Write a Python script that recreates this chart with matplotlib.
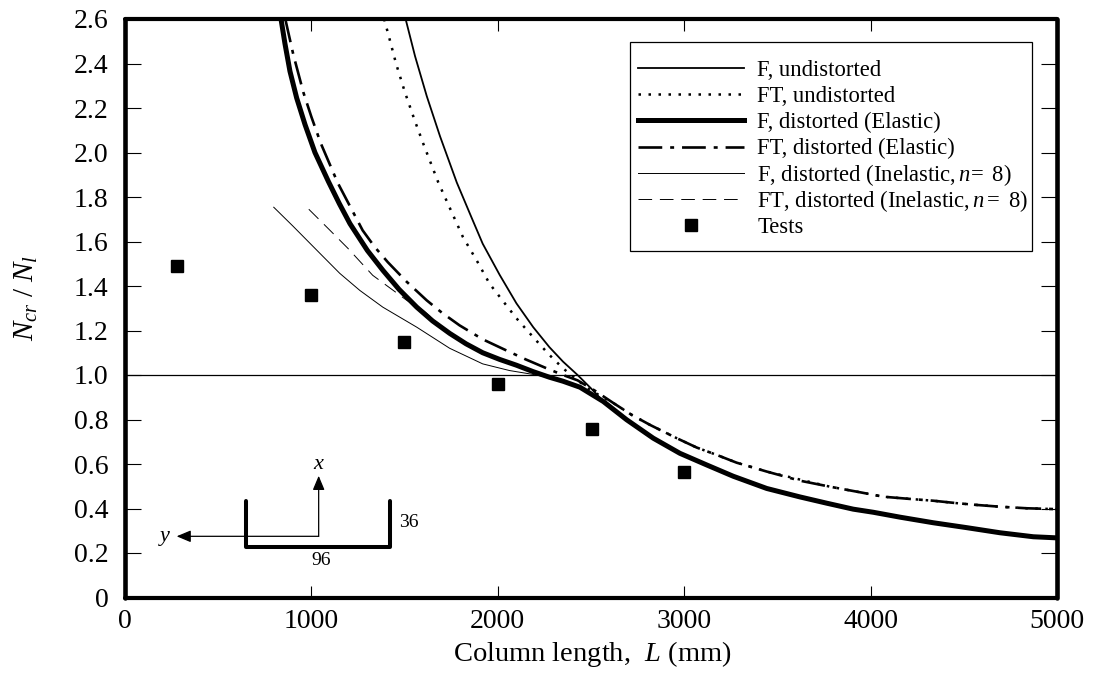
import matplotlib
matplotlib.use("Agg")
import matplotlib.pyplot as plt
from matplotlib.transforms import Bbox

plt.rcParams['font.family'] = ['Liberation Serif', 'DejaVu Serif']
plt.rcParams['mathtext.fontset'] = 'custom'
plt.rcParams['mathtext.rm'] = 'Liberation Serif'
plt.rcParams['mathtext.it'] = 'Liberation Serif:italic'

f_und_x = [1506,1556,1619,1690,1780,1858,1919,2010,2100,2190,2277,2350,2428,2500,2566,2691,2834,2977,3120,3263,3443,3664,3907,4158,4515,4873,5000]
f_und_y = [2.598,2.433,2.253,2.073,1.865,1.71,1.59,1.45,1.322,1.215,1.125,1.06,1.0,0.94,0.881,0.799,0.716,0.648,0.596,0.545,0.49,0.446,0.397,0.361,0.316,0.273,0.268]
ft_und_x = [1390,1413,1454,1502,1556,1600,1681,1813,1890,1956,2030,2100,2190,2277,2350,2428,2500,2620,2718,2816,2960,3067,3174,3281,3443,3666,3782,3943,4068,4211,4336,4462,4569,4694,4838,5000]
ft_und_y = [2.60,2.53,2.40,2.27,2.14,2.04,1.865,1.62,1.51,1.41,1.33,1.255,1.17,1.09,1.03,0.976,0.93,0.874,0.821,0.776,0.716,0.674,0.641,0.606,0.566,0.521,0.498,0.473,0.453,0.443,0.435,0.424,0.416,0.408,0.401,0.397]
f_dis_x = [837,858,885,921,966,1019,1091,1150,1207,1300,1384,1470,1565,1650,1742,1830,1919,2010,2100,2190,2277,2350,2441,2566,2691,2834,2977,3120,3263,3443,3621,3764,3907,4015,4158,4336,4515,4694,4873,5000]
f_dis_y = [2.60,2.49,2.365,2.245,2.125,2.0,1.87,1.77,1.68,1.56,1.47,1.385,1.305,1.243,1.187,1.14,1.10,1.07,1.044,1.015,0.99,0.972,0.945,0.881,0.799,0.716,0.648,0.596,0.545,0.49,0.452,0.424,0.397,0.383,0.361,0.336,0.314,0.291,0.273,0.268]
ft_dis_x = [860,876,903,957,1000,1051,1141,1275,1340,1410,1510,1618,1700,1795,1920,2047,2150,2262,2350,2428,2520,2620,2718,2816,2960,3067,3174,3281,3443,3621,3782,3943,4068,4211,4336,4462,4569,4694,4838,5000]
ft_dis_y = [2.60,2.54,2.44,2.27,2.16,2.04,1.864,1.65,1.575,1.507,1.42,1.336,1.28,1.223,1.16,1.11,1.07,1.03,1.0,0.976,0.93,0.874,0.821,0.776,0.716,0.674,0.641,0.606,0.566,0.525,0.498,0.473,0.453,0.443,0.435,0.424,0.416,0.408,0.401,0.397]
f_ine_x = [798,900,1056,1152,1260,1383,1565,1742,1919,2063,2208,2300]
f_ine_y = [1.754,1.67,1.538,1.457,1.38,1.305,1.215,1.12,1.05,1.02,1.0,0.985]
ft_ine_x = [986,1100,1195,1329,1511,1600,1742]
ft_ine_y = [1.745,1.65,1.57,1.448,1.336,1.29,1.187]
test_x = [279,999,1495,2003,2507,3000]
test_y = [1.489,1.36,1.148,0.959,0.758,0.566]
x_ticks = [0,1000,2000,3000,4000,5000]
y_ticks = [0,0.2,0.4,0.6,0.8,1.0,1.2,1.4,1.6,1.8,2.0,2.2,2.4,2.6]

channel_x = [649,649,1421,1421]
channel_y = [0.434,0.2285,0.2285,0.434]
origin = (1039,0.275)
x_tip = (1039,0.547)
y_tip = (277,0.275)

W,H = 1093,675
fig = plt.figure(figsize=(W/100,H/100),dpi=100)
ax = fig.add_axes([125/W,(H-597.5)/H,932/W,578.5/H])
ax.set_xlim(0,5000); ax.set_ylim(0,2.6)
ax.set_xticks(x_ticks); ax.set_yticks(y_ticks)
ax.set_yticklabels(['0']+[f'{v:.1f}' for v in y_ticks[1:]])
ax.tick_params(direction='in',width=0.8,labelsize=20,right=True,top=True)
ax.tick_params(axis='x',length=8.6,pad=8)
ax.tick_params(axis='y',length=11.5,pad=12)
for s in ax.spines.values():
    s.set_linewidth(3)
    s.set_capstyle('round')
ax.spines['left'].set_linewidth(3.3)
ax.spines['right'].set_linewidth(3.3)

ax.axhline(1.0,color='k',lw=0.9,zorder=1)
ax.plot(f_und_x,f_und_y,'k-',lw=1.3,label='F, undistorted')
ax.plot(ft_und_x,ft_und_y,color='k',ls=(0,(1,3)),lw=1.8,label='FT, undistorted')
ax.plot(f_dis_x,f_dis_y,'k-',lw=3.6,label='F, distorted (Elastic)')
ax.plot(ft_dis_x,ft_dis_y,color='k',ls=(0,(9,3,1.5,3)),lw=1.9,label='FT, distorted (Elastic)')
ax.plot(f_ine_x,f_ine_y,color='k',ls='-',lw=0.7,label=r'F, distorted (Inelastic,$\,n\!=$ 8)')
ax.plot(ft_ine_x,ft_ine_y,color='k',ls=(0,(14,8)),lw=0.7,label=r'FT, distorted (Inelastic,$\,n=$ 8)')
ax.plot(test_x,test_y,'ks',ms=9,ls='none',label='Tests',zorder=5)

leg = ax.legend(loc='upper left',bbox_to_anchor=((630-125)/932,(597.5-41.7)/578.5),
    fontsize=16.3,frameon=True,fancybox=False,framealpha=1,edgecolor='k',
    handlelength=4.68,handletextpad=0.58,labelspacing=0,borderpad=0.353,borderaxespad=0,numpoints=1)
leg.get_frame().set_linewidth(0.9)

# uniform row pitch, as in the reference
rows = leg._legend_handle_box.get_children()[0].get_children()
for i,row in enumerate(rows):
    ta = row.get_children()[1]
    def fixed(r,orig=ta.get_bbox,top=19.2+(7 if i==0 else 0),bot=7+(3 if i==len(rows)-1 else 0)):
        b = orig(r)
        return Bbox([[b.x0,-bot],[b.x1-4,top]])
    ta.get_bbox = fixed

ax.plot(channel_x,channel_y,'k-',lw=2.9,solid_joinstyle='round',solid_capstyle='round')
arrow = dict(arrowstyle='-|>,head_width=0.36,head_length=0.86',mutation_scale=10,color='k',lw=0.9,shrinkA=0,shrinkB=0)
ax.annotate('',xy=x_tip,xytext=origin,arrowprops=arrow)
ax.annotate('',xy=y_tip,xytext=origin,arrowprops=arrow)
ax.text(1035,0.596,'x',style='italic',fontsize=16,ha='center',va='center')
ax.text(215,0.273,'y',style='italic',fontsize=16,ha='center',va='center')
ax.text(1524,0.339,'36',fontsize=14,ha='center',va='center')
ax.text(1050,0.165,'96',fontsize=14,ha='center',va='center')

ax.set_xlabel(r'Column length,  $L$ (mm)',fontsize=20.5)
ax.xaxis.set_label_coords((592-125)/932,(597.5-639)/578.5)
ax.set_ylabel(r'$N_{cr}\ /\ N_{l}$',fontsize=21)
ax.yaxis.set_label_coords((40-125)/932,(597.5-298)/578.5)
fig.savefig('out.png',dpi=100)
